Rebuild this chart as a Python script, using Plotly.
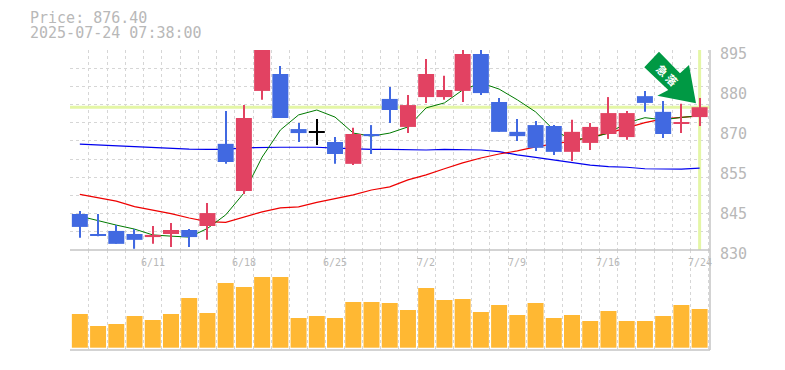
import plotly.graph_objects as go

dates = ["6/5","6/6","6/9","6/10","6/11","6/12","6/13","6/16","6/17","6/18","6/19","6/20","6/23","6/24","6/25","6/26","6/27","6/30",
         "7/1","7/2","7/3","7/4","7/7","7/8","7/9","7/10","7/11","7/14","7/15","7/16","7/17","7/18","7/22","7/23","7/24"]
open_ = [841.7,835.2,836.2,835.2,834.2,835.2,836.5,837.8,864.5,849.2,881.7,887.2,869.3,868.2,865.1,858.0,867.7,879.1,
         870.0,879.7,879.7,881.7,893.7,878.1,868.4,870.6,870.3,861.9,864.8,867.7,866.7,880.0,874.9,871.0,873.2]
close = [837.5,834.6,832.0,833.3,834.9,836.5,834.2,842.0,858.6,872.9,895.0,872.9,868.0,868.2,861.2,867.7,867.0,875.5,
         877.1,887.2,882.0,893.7,881.0,868.4,867.0,863.2,861.9,868.4,870.0,874.5,874.5,877.8,867.7,871.6,876.4]
high = [842.7,841.7,838.1,836.8,837.8,838.8,836.8,845.3,875.2,877.1,895.0,889.8,871.3,872.6,866.7,869.7,870.6,883.0,
        880.4,892.1,886.6,895.0,895.0,879.4,872.6,871.9,870.6,872.3,871.3,879.7,875.2,881.7,878.4,877.5,879.4]
low = [834.0,834.5,832.0,830.4,832.0,831.0,831.0,833.3,858.0,848.2,878.8,872.9,865.1,864.1,858.0,857.6,861.2,871.3,
       868.0,877.8,878.8,878.1,880.4,868.4,865.4,862.2,860.9,858.9,862.5,866.1,865.8,874.9,866.4,868.0,870.3]
ma_short = [841.0,839.5,838.1,836.8,834.9,834.5,834.2,837.0,841.4,848.5,860.2,869.0,873.9,875.5,873.2,868.0,867.0,868.0,
            870.0,876.2,877.8,882.0,884.3,882.3,878.8,874.9,869.0,865.8,866.4,868.0,871.3,873.0,872.3,873.1,873.6]
ma_mid = [848.1,846.9,845.9,844.1,843.0,841.8,840.4,839.2,839.0,840.6,842.4,843.7,844.0,845.5,846.6,847.9,849.5,850.5,
          852.8,854.4,856.4,858.3,859.9,861.2,862.2,863.5,864.5,865.4,866.7,868.0,869.7,871.4,872.6,873.1,873.6]
ma_long = [864.4,864.1,863.8,863.5,863.2,863.1,862.8,862.7,862.7,863.2,863.4,863.4,863.4,863.4,863.1,862.8,862.7,862.7,
           862.5,862.5,862.7,862.5,862.5,862.0,860.9,860.1,859.3,858.6,857.6,857.1,856.9,856.4,856.3,856.3,856.6]
volume = [337,217,237,317,277,337,497,347,647,607,707,707,297,317,297,457,457,447,
          377,597,477,487,357,427,327,447,297,327,267,367,267,267,317,427,387]
date_labels = ["6/11","6/18","6/25","7/2","7/9","7/16","7/24"]
price_labels = ["895","880","870","855","845","830"]
price_label_values = [895,882,869,856,843,830]
last_price = 876.4

UP, DOWN, DOJI = "#E24262", "#4169E1", "#000000"
GRID, TXT, AXIS = "#d6d6d6", "#b8b8b8", "#c4c4c4"
MONO = "DejaVu Sans Mono, Liberation Mono, monospace"

idx = list(range(len(dates)))
colors = [DOJI if c == o else (UP if c > o else DOWN) for o, c in zip(open_, close)]
base = [min(o, c) for o, c in zip(open_, close)]
body = [max(abs(c - o), 0.2) for o, c in zip(open_, close)]

fig = go.Figure()
fig.add_trace(go.Scatter(x=[-0.54, 34.57], y=[last_price, last_price], mode="lines",
                         line=dict(color="#e4f6a6", width=3), xaxis="x", yaxis="y", hoverinfo="skip"))
fig.add_trace(go.Scatter(x=[34, 34], y=[830, 895], mode="lines",
                         line=dict(color="#e4f6a6", width=3), xaxis="x", yaxis="y", hoverinfo="skip"))
fig.add_trace(go.Scatter(x=idx, y=ma_long, mode="lines", line=dict(color="#0000ee", width=1.2), xaxis="x", yaxis="y"))
fig.add_trace(go.Scatter(x=idx, y=ma_mid, mode="lines", line=dict(color="#ee0000", width=1.2), xaxis="x", yaxis="y"))
fig.add_trace(go.Scatter(x=idx, y=ma_short, mode="lines", line=dict(color="#007a00", width=1), xaxis="x", yaxis="y"))
# candles on an overlaid axis so they sit above the lines
fig.add_trace(go.Bar(x=idx, base=low, y=[h - l for h, l in zip(high, low)], width=0.06,
                     marker=dict(color=colors, line_width=0), xaxis="x", yaxis="y3"))
fig.add_trace(go.Bar(x=idx, base=base, y=body, width=0.877,
                     marker=dict(color=colors, line_width=0), xaxis="x", yaxis="y3"))
fig.add_trace(go.Bar(x=idx, y=volume, width=0.877, marker=dict(color="#FFB833", line_width=0),
                     xaxis="x2", yaxis="y2"))

grid_x = [i - 0.5 for i in range(len(dates) + 1)]
grid_y = [830 + k * 65 / 11 for k in range(12)]
xcommon = dict(range=[-0.54, 34.57], tickmode="array", tickvals=grid_x, showticklabels=False, ticks="",
               showgrid=True, gridcolor=GRID, gridwidth=1, griddash="3px,3px", zeroline=False, showline=False)


def px(x):
    return (x - 70) / 640


def py(y):
    return (350 - y) / 300


annotations = []
for d in date_labels:
    annotations.append(dict(x=dates.index(d), xref="x", y=1/3, yref="paper", yshift=-12, yanchor="middle", xanchor="center",
                            text=d, showarrow=False, font=dict(family=MONO, size=10, color=TXT)))
for lab, v in zip(price_labels, price_label_values):
    annotations.append(dict(x=1, xref="paper", xshift=8, xanchor="left", y=v, yref="y", yshift=-4, yanchor="middle",
                            text=lab, showarrow=False, font=dict(family=MONO, size=15, color=TXT)))
annotations += [
    dict(x=px(30), xshift=-2, xref="paper", xanchor="left", y=py(18), yref="paper", yanchor="middle", text=f"Price: {last_price:.2f}",
         height=14, showarrow=False, font=dict(family=MONO, size=15, color=TXT)),
    dict(x=px(30), xshift=-2, xref="paper", xanchor="left", y=py(33), yref="paper", yanchor="middle", text="2025-07-24 07:38:00",
         height=14, showarrow=False, font=dict(family=MONO, size=15, color=TXT)),
    dict(x=px(667.5), xref="paper", xanchor="center", y=py(75), yref="paper", yanchor="middle", text="<b>急 落</b>", textangle=45,
         showarrow=False, font=dict(family="Noto Sans CJK JP", size=11, color="#ffffff")),
]

arrow = [(659, 51.7), (644.3, 67.3), (668.3, 90), (657.3, 95.7), (696, 103.3), (689, 65), (680, 73.3)]
path = "M " + " L ".join(f"{px(a):.4f},{py(b):.4f}" for a, b in arrow) + " Z"

shapes = [
    dict(type="line", xref="paper", yref="paper", x0=0, x1=1, y0=1/3, y1=1/3, line=dict(color=AXIS, width=1.5)),
    dict(type="line", xref="paper", yref="paper", x0=0, x1=1, y0=0, y1=0, line=dict(color=AXIS, width=1.5)),
    dict(type="line", xref="paper", yref="paper", x0=1, x1=1, y0=0, y1=1, line=dict(color=AXIS, width=1.5)),
    dict(type="path", xref="paper", yref="paper", path=path, fillcolor="#009944", line=dict(width=0)),
]

fig.update_layout(
    width=785, height=370, autosize=False, margin=dict(l=70, r=75, t=50, b=20, pad=0),
    paper_bgcolor="#ffffff", plot_bgcolor="#ffffff", showlegend=False, barmode="overlay",
    xaxis=dict(domain=[0, 1], anchor="y", **xcommon),
    xaxis2=dict(domain=[0, 1], anchor="y2", **xcommon),
    yaxis=dict(domain=[1/3, 1], anchor="x", range=[830, 895], tickmode="array", tickvals=grid_y, showticklabels=False,
               showgrid=True, gridcolor=GRID, gridwidth=1, griddash="3px,3px", zeroline=False, ticks=""),
    yaxis3=dict(domain=[1/3, 1], anchor="x", overlaying="y", range=[830, 895], showgrid=False, showticklabels=False,
                zeroline=False, ticks=""),
    yaxis2=dict(domain=[0, 1/3], anchor="x2", range=[-23, 977], showgrid=False, showticklabels=False, zeroline=False, ticks=""),
    annotations=annotations, shapes=shapes,
)
fig.write_html("out.html", config={"displayModeBar": False},
               post_script="document.body.style.margin='0';document.documentElement.style.overflow='hidden';")
